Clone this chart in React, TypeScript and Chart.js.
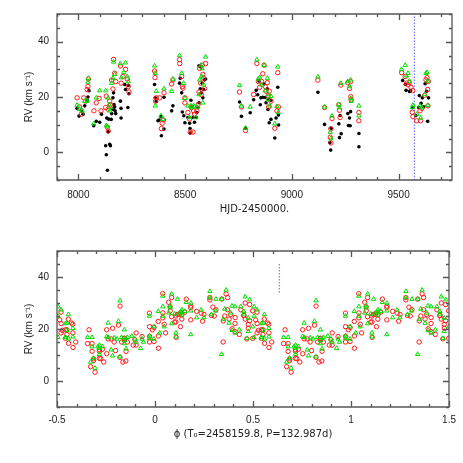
import React, { useEffect, useRef } from 'react';
import { Chart, registerables } from 'chart.js';

Chart.register(...registerables);

// ---- constants from the figure ----
const T0 = 8159.8; // HJD-2450000 of 2458159.8
const PERIOD = 132.987;
const MARK_HJD = 9574;
const MARK_PHASE_RV: [number, number] = [34, 45];

const HJD_RANGE: [number, number] = [7900, 9750];
const PHASE_RANGE: [number, number] = [-0.5, 1.5];
const RV_RANGE: [number, number] = [-10, 50];

const HJD_TICKS = [8000, 8500, 9000, 9500];
const PHASE_TICKS = [-0.5, 0, 0.5, 1, 1.5];
const RV_TICKS = [0, 20, 40];

// ---- data: [HJD-2450000, RV km/s] ----
const BLACK_PTS: [number, number][] = [
  [7994, 15.9], [8003, 13.1], [8014, 15.0], [8022, 13.8], [8030, 16.8], [8041, 18.8], [8045, 20.0], [8050, 22.3],
  [8072, 9.6], [8084, 11.2], [8100, 10.9], [8108, 13.8], [8128, 2.4], [8131, -0.9], [8136, -6.5], [8140, 7.4],
  [8133, 12.4], [8142, 12.0], [8147, 2.9], [8150, 2.4], [8154, 11.9], [8156, 14.0], [8162, 15.6], [8162, 19.7],
  [8165, 21.5], [8167, 17.3], [8170, 16.4], [8172, 15.0], [8175, 14.0], [8197, 18.5], [8200, 15.9], [8200, 12.4],
  [8217, 24.5], [8221, 22.7], [8232, 16.2], [8234, 24.2], [8237, 21.2],
  [8357, 24.5], [8360, 19.7], [8365, 18.5], [8373, 11.4], [8378, 11.7], [8387, 12.9], [8389, 6.0], [8401, 8.4],
  [8401, 19.9], [8437, 15.0], [8443, 16.8], [8474, 25.0], [8477, 26.8], [8484, 21.5], [8487, 14.6], [8494, 13.2],
  [8499, 10.7], [8513, 12.6], [8521, 10.5], [8523, 8.6], [8524, 7.0], [8527, 18.8], [8533, 16.6], [8537, 12.6],
  [8544, 10.9], [8552, 12.6], [8555, 14.4], [8560, 16.2], [8565, 17.9], [8565, 31.3], [8571, 23.0], [8574, 30.8],
  [8576, 21.5], [8580, 25.0], [8583, 19.7], [8587, 22.7], [8591, 26.2], [8596, 26.5],
  [8755, 18.2], [8764, 13.0], [8783, 8.7], [8805, 14.3], [8821, 19.0], [8833, 22.4], [8840, 20.8], [8846, 25.8],
  [8852, 17.2], [8855, 19.7], [8864, 19.9], [8870, 24.7], [8875, 19.8], [8879, 17.9], [8885, 23.0], [8888, 15.5],
  [8891, 19.1], [8894, 10.7], [8902, 11.9], [8902, 18.8], [8920, 5.2], [8926, 12.4], [8934, 23.5], [8937, 13.5],
  [8938, 9.9],
  [9122, 21.7], [9153, 10.1], [9178, 3.5], [9182, 0.8], [9185, 8.7], [9220, 10.3], [9223, 5.3], [9226, 13.3],
  [9231, 6.7], [9262, 14.0], [9265, 9.7], [9270, 12.4], [9273, 9.6], [9275, 14.7], [9314, 6.8], [9314, 2.0],
  [9519, 26.0], [9532, 24.6], [9535, 22.4], [9551, 22.0], [9556, 22.3], [9566, 16.2], [9581, 13.3], [9594, 16.2],
  [9597, 20.5], [9605, 17.7], [9611, 19.7], [9617, 16.5], [9624, 24.8], [9636, 11.2], [9640, 19.7], [9631, 22.1],
];

const RED_PTS: [number, number][] = [
  [7994, 19.7], [8006, 16.4], [8014, 13.8], [8025, 19.7], [8034, 18.5], [8041, 22.7], [8045, 23.8], [8047, 26.5],
  [8073, 15.0], [8084, 17.9], [8097, 19.5], [8106, 15.0], [8128, 16.2], [8131, 20.3], [8136, 9.1], [8140, 7.7],
  [8139, 15.6], [8147, 18.5], [8151, 17.1], [8156, 26.1], [8162, 22.9], [8165, 33.6], [8170, 28.6], [8175, 25.6],
  [8197, 31.2], [8200, 25.0], [8209, 27.4], [8221, 30.0], [8229, 26.5], [8234, 23.8], [8237, 21.8],
  [8357, 29.4], [8359, 27.0], [8362, 18.5], [8365, 19.7], [8381, 19.7], [8389, 8.6], [8393, 10.5], [8399, 11.7],
  [8401, 21.5], [8437, 24.7], [8443, 26.2], [8474, 33.5], [8475, 32.1], [8484, 27.4], [8487, 23.8], [8490, 23.2],
  [8499, 19.7], [8499, 17.9], [8513, 14.4], [8521, 12.0], [8524, 7.3], [8529, 16.2], [8537, 7.3], [8540, 15.0],
  [8544, 13.8], [8555, 15.0], [8561, 17.3], [8565, 21.8], [8568, 30.3], [8573, 25.0], [8576, 20.9], [8580, 31.5],
  [8583, 28.2], [8587, 26.8], [8591, 23.0], [8596, 32.1],
  [8755, 21.8], [8764, 16.4], [8783, 7.9], [8821, 20.9], [8836, 32.1], [8843, 25.6], [8849, 23.5], [8858, 25.6],
  [8864, 28.4], [8870, 31.5], [8875, 23.8], [8879, 22.1], [8885, 25.2], [8888, 20.3], [8891, 16.4], [8894, 22.1],
  [8902, 18.5], [8920, 8.7], [8930, 15.0], [8934, 28.8], [8937, 16.4],
  [9122, 26.1], [9153, 16.2], [9183, 3.4], [9180, 5.5], [9182, 8.5], [9188, 12.2], [9220, 17.2], [9223, 15.2],
  [9226, 12.6], [9229, 24.3], [9262, 25.2], [9270, 23.1], [9275, 25.6], [9276, 20.1], [9278, 19.0], [9314, 14.4],
  [9314, 11.4],
  [9514, 28.8], [9531, 27.4], [9537, 25.0], [9544, 24.4], [9550, 25.2], [9558, 23.5], [9566, 22.3], [9564, 14.5],
  [9567, 12.9], [9585, 11.4], [9600, 15.0], [9603, 11.4], [9609, 15.9], [9622, 20.6], [9628, 26.2], [9633, 27.0],
  [9636, 22.7], [9639, 25.6], [9637, 16.8],
];

const GREEN_PTS: [number, number][] = [
  [7994, 17.1], [8006, 15.6], [8019, 15.0], [8030, 18.5], [8041, 18.5], [8045, 25.4], [8047, 26.8], [8072, 10.3],
  [8084, 19.7], [8100, 22.3], [8128, 22.3], [8131, 9.7], [8136, 9.3], [8139, 19.7], [8144, 17.3], [8147, 15.0],
  [8151, 16.2], [8156, 25.0], [8162, 26.8], [8165, 32.7], [8170, 28.2], [8197, 32.1], [8201, 27.0], [8212, 28.9],
  [8221, 32.4], [8229, 27.4], [8234, 25.6],
  [8357, 31.3], [8360, 28.6], [8360, 16.8], [8365, 22.1], [8387, 13.2], [8396, 12.0], [8401, 23.0], [8437, 22.1],
  [8443, 26.5], [8474, 35.0], [8484, 28.6], [8493, 25.0], [8499, 19.5], [8513, 16.8], [8521, 12.6], [8527, 16.8],
  [8533, 16.2], [8540, 16.8], [8549, 12.6], [8555, 16.4], [8565, 20.9], [8568, 26.2], [8574, 31.5], [8577, 27.4],
  [8580, 30.3], [8583, 17.9], [8587, 24.4], [8596, 34.5],
  [8755, 24.2], [8764, 16.8], [8783, 8.8], [8805, 16.4], [8836, 33.5], [8843, 26.5], [8849, 27.0], [8858, 24.4],
  [8870, 31.5], [8875, 22.3], [8885, 26.8], [8888, 19.1], [8891, 20.9], [8897, 16.8], [8902, 20.3], [8920, 10.3],
  [8930, 16.6], [8934, 30.9], [8937, 14.4],
  [9122, 27.3], [9153, 16.4], [9180, 7.3], [9183, 5.0], [9188, 13.2], [9220, 17.3], [9223, 16.2], [9229, 25.0],
  [9262, 25.6], [9270, 23.8], [9275, 26.2], [9276, 19.5], [9278, 18.5], [9314, 16.8], [9314, 13.2],
  [9514, 30.0], [9531, 31.5], [9537, 27.7], [9544, 28.6], [9550, 25.8], [9564, 16.2], [9567, 17.0], [9585, 13.8],
  [9600, 16.8], [9603, 12.4], [9609, 16.2], [9622, 20.9], [9628, 28.6], [9633, 28.9], [9636, 25.8], [9637, 17.0],
];

// ---- styling ----
const FRAME_COLOR = '#555555';
const TEXT_COLOR = '#222222';
const TICK_FONT = { family: '"Liberation Sans", Arial, sans-serif', size: 10 };
const TITLE_FONT = { family: '"DejaVu Sans", sans-serif', size: 10 };
const YTITLE_FONT = { family: '"Liberation Sans", Arial, sans-serif', size: 10 };

const phaseOf = (hjd: number) => {
  const p = (hjd - T0) / PERIOD;
  return p - Math.floor(p);
};
const folded = (pts: [number, number][]) =>
  pts.flatMap(([h, rv]) => {
    const p = phaseOf(h);
    return p < 0.5 ? [{ x: p, y: rv }, { x: p + 1, y: rv }] : [{ x: p - 1, y: rv }, { x: p, y: rv }];
  });
const asXY = (pts: [number, number][]) => pts.map(([x, y]) => ({ x, y }));

type TickCfg = { xMinor: number; xMajor: number; yMinor: number; yMajor: number };

function makeFramePlugin(cfg: TickCfg) {
  return {
    id: 'frameTicks',
    afterDraw(chart: any) {
      const ctx: CanvasRenderingContext2D = chart.ctx;
      const ca = chart.chartArea;
      const xs = chart.scales.x;
      const ys = chart.scales.y;
      const l = Math.round(ca.left);
      const r = Math.round(ca.right);
      const t = Math.round(ca.top);
      const b = Math.round(ca.bottom);
      ctx.save();
      ctx.setLineDash([]);
      ctx.strokeStyle = FRAME_COLOR;
      ctx.lineWidth = 1.3;
      ctx.beginPath();
      ctx.rect(l, t, r - l, b - t);
      const each = (min: number, max: number, minor: number, major: number, fn: (v: number, m: boolean) => void) => {
        const n0 = Math.ceil(min / minor - 1e-6);
        const n1 = Math.floor(max / minor + 1e-6);
        for (let n = n0; n <= n1; n++) {
          const v = n * minor;
          const q = v / major;
          fn(v, Math.abs(q - Math.round(q)) < 1e-6);
        }
      };
      each(xs.min, xs.max, cfg.xMinor, cfg.xMajor, (v, maj) => {
        const px = Math.round(xs.getPixelForValue(v)) + 0.5;
        const len = maj ? 6 : 3;
        ctx.moveTo(px, t); ctx.lineTo(px, t + len);
        ctx.moveTo(px, b); ctx.lineTo(px, b - len);
      });
      each(ys.min, ys.max, cfg.yMinor, cfg.yMajor, (v, maj) => {
        const py = Math.round(ys.getPixelForValue(v)) + 0.5;
        const len = maj ? 6 : 3;
        ctx.moveTo(l, py); ctx.lineTo(l + len, py);
        ctx.moveTo(r, py); ctx.lineTo(r - len, py);
      });
      ctx.stroke();
      ctx.restore();
    },
  };
}

const seriesStyles = {
  green: { pointStyle: 'triangle', pointRadius: 2.5, pointBorderWidth: 1, pointBorderColor: '#00dd00', pointBackgroundColor: 'rgba(0,0,0,0)', borderColor: '#00dd00', backgroundColor: 'rgba(0,0,0,0)', order: 0 },
  red: { pointStyle: 'circle', pointRadius: 2.2, pointBorderWidth: 1, pointBorderColor: '#ff1a1a', pointBackgroundColor: 'rgba(0,0,0,0)', borderColor: '#ff1a1a', backgroundColor: 'rgba(0,0,0,0)', order: 1 },
  black: { pointStyle: 'circle', pointRadius: 1.8, pointBorderWidth: 0, pointBorderColor: '#000', pointBackgroundColor: '#000', borderColor: '#000', backgroundColor: '#000', order: 2 },
};

const markStyle = {
  showLine: true, pointRadius: 0, borderColor: '#7a7aff', borderWidth: 1.2, borderDash: [1.5, 1.5], order: 3,
};

function makeOptions(cfg: {
  xRange: [number, number]; xTicks: number[]; xTitle: string;
  fmt: (v: number) => string; padTop: number; xHeight: number; tickPad: number; titlePad: number;
}) {
  return {
    animation: false,
    responsive: false,
    events: [],
    layout: { padding: { top: cfg.padTop, right: 11, left: 0, bottom: 0 } },
    plugins: {
      legend: { display: false },
      tooltip: { enabled: false },
    },
    scales: {
      x: {
        type: 'linear',
        min: cfg.xRange[0],
        max: cfg.xRange[1],
        grid: { display: false, drawTicks: false },
        border: { display: false },
        afterBuildTicks: (s: any) => { s.ticks = cfg.xTicks.map((v) => ({ value: v })); },
        afterFit: (s: any) => { s.height = cfg.xHeight; },
        ticks: { padding: cfg.tickPad, color: TEXT_COLOR, font: TICK_FONT, maxRotation: 0, autoSkip: false, callback: (v: any) => cfg.fmt(Number(v)) },
        title: { display: true, text: cfg.xTitle, color: TEXT_COLOR, font: TITLE_FONT, padding: { top: 0, bottom: cfg.titlePad } },
      },
      y: {
        type: 'linear',
        min: RV_RANGE[0],
        max: RV_RANGE[1],
        grid: { display: false, drawTicks: false },
        border: { display: false },
        afterBuildTicks: (s: any) => { s.ticks = RV_TICKS.map((v) => ({ value: v })); },
        afterFit: (s: any) => { s.width = 57; },
        ticks: { padding: 8, color: TEXT_COLOR, font: TICK_FONT, autoSkip: false },
        title: { display: true, text: 'RV (km s\u207B\u00B9)', color: TEXT_COLOR, font: YTITLE_FONT, padding: { top: 23, bottom: 0 } },
      },
    },
  };
}

export default function App() {
  const topRef = useRef<HTMLCanvasElement>(null);
  const botRef = useRef<HTMLCanvasElement>(null);

  useEffect(() => {
    const top = new Chart(topRef.current as HTMLCanvasElement, {
      type: 'scatter',
      data: {
        datasets: [
          { label: 'green', data: asXY(GREEN_PTS), ...seriesStyles.green },
          { label: 'red', data: asXY(RED_PTS), ...seriesStyles.red },
          { label: 'black', data: asXY(BLACK_PTS), ...seriesStyles.black },
          { label: 'mark', data: [{ x: MARK_HJD, y: RV_RANGE[0] }, { x: MARK_HJD, y: RV_RANGE[1] }], ...markStyle },
        ] as any,
      },
      options: makeOptions({
        xRange: HJD_RANGE, xTicks: HJD_TICKS, xTitle: 'HJD-2450000.',
        fmt: (v) => String(v), padTop: 11, xHeight: 52, tickPad: 9, titlePad: 17,
      }) as any,
      plugins: [makeFramePlugin({ xMinor: 100, xMajor: 500, yMinor: 5, yMajor: 20 })],
    });
    const markPhase = phaseOf(MARK_HJD);
    const bot = new Chart(botRef.current as HTMLCanvasElement, {
      type: 'scatter',
      data: {
        datasets: [
          { label: 'green', data: folded(GREEN_PTS), ...seriesStyles.green },
          { label: 'red', data: folded(RED_PTS), ...seriesStyles.red },
          { label: 'mark', data: [{ x: markPhase, y: MARK_PHASE_RV[0] }, { x: markPhase, y: MARK_PHASE_RV[1] }], ...markStyle },
        ] as any,
      },
      options: makeOptions({
        xRange: PHASE_RANGE, xTicks: PHASE_TICKS, xTitle: '\u03D5 (T\u2080=2458159.8, P=132.987d)',
        fmt: (v) => String(v), padTop: 19, xHeight: 56, tickPad: 7, titlePad: 23,
      }) as any,
      plugins: [makeFramePlugin({ xMinor: 0.1, xMajor: 0.5, yMinor: 5, yMajor: 20 })],
    });
    return () => { top.destroy(); bot.destroy(); };
  }, []);

  return (
    <div style={{ position: 'absolute', left: 0, top: 0, width: 463, height: 463, background: '#fff' }}>
      <canvas ref={topRef} width={463} height={232} style={{ position: 'absolute', left: 0, top: 0, width: 463, height: 232 }} />
      <canvas ref={botRef} width={463} height={231} style={{ position: 'absolute', left: 0, top: 232, width: 463, height: 231 }} />
    </div>
  );
}
